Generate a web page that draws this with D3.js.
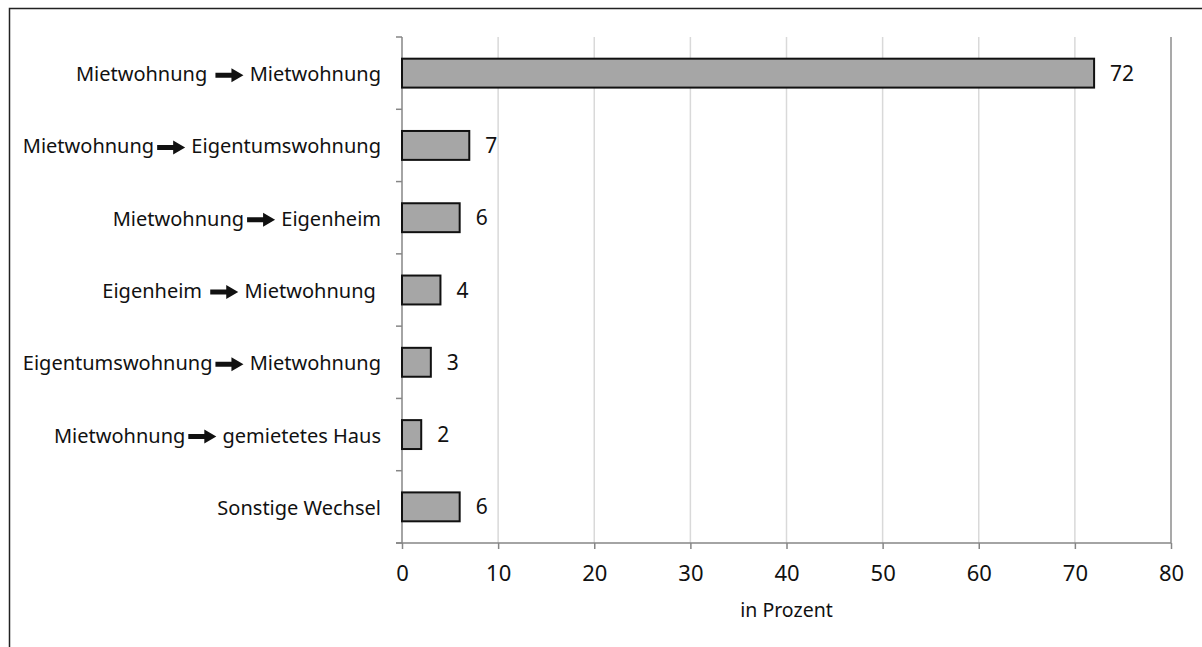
<!DOCTYPE html>
<html>
<head>
<meta charset="utf-8">
<script src="https://cdn.jsdelivr.net/npm/d3@7"></script>
<style>
  html, body { margin: 0; padding: 0; background: #fff; }
  svg { display: block; }
  text { font-family: "Noto Sans", sans-serif; fill: #111; }
</style>
</head>
<body>
<svg id="chart" width="1202" height="647"></svg>
<script>
// Wohnungswechsel nach Art der vorherigen und neuen Wohnung
const fromLabels = ["Mietwohnung ", "Mietwohnung", "Mietwohnung", "Eigenheim ", "Eigentumswohnung", "Mietwohnung", ""];
const toLabels = [" Mietwohnung", " Eigentumswohnung", " Eigenheim", " Mietwohnung ", " Mietwohnung", " gemietetes Haus", "Sonstige Wechsel"];
const values = [72, 7, 6, 4, 3, 2, 6];
const xTicks = [0, 10, 20, 30, 40, 50, 60, 70, 80];
const axisTitle = "in Prozent";

const rows = values.map((v, i) => ({ id: i, from: fromLabels[i], to: toLabels[i], value: v }));

const svg = d3.select("#chart");
const margin = { left: 402, right: 31, top: 37, bottom: 104 };
const W = 1202, H = 647;

// outer frame
svg.append("rect")
  .attr("x", 9.5).attr("y", 8.5)
  .attr("width", 1210).attr("height", 660)
  .attr("fill", "none").attr("stroke", "#222").attr("stroke-width", 1.5);

const x = d3.scaleLinear().domain([0, 80]).range([margin.left, W - margin.right]);
const y = d3.scaleBand().domain(rows.map(d => d.id))
  .range([margin.top, H - margin.bottom]).paddingInner(0.6).paddingOuter(0.3);
const y0 = margin.top, y1 = H - margin.bottom;
const mid = d => y(d.id) + y.bandwidth() / 2;

// vertical gridlines
svg.append("g").selectAll("line")
  .data(xTicks.filter(t => t > 0 && t < 80))
  .join("line")
  .attr("x1", d => x(d)).attr("x2", d => x(d))
  .attr("y1", y0).attr("y2", y1)
  .attr("stroke", "#d9d9d9").attr("stroke-width", 1.5);

// right border of the plot area
svg.append("line")
  .attr("x1", x(80)).attr("x2", x(80)).attr("y1", y0).attr("y2", y1)
  .attr("stroke", "#8c8c8c").attr("stroke-width", 1.5);

// x axis
const xAxis = svg.append("g")
  .attr("transform", `translate(0,${y1})`)
  .call(d3.axisBottom(x).tickValues(xTicks).tickSize(6).tickSizeOuter(0).tickPadding(16));
xAxis.select(".domain").attr("stroke", "#868686").attr("stroke-width", 1.5)
  .attr("d", `M${x(0) - 6},0H${x(80)}`);
xAxis.selectAll(".tick line").attr("stroke", "#868686").attr("stroke-width", 1.5);
xAxis.selectAll(".tick text")
  .style("font-family", "'Noto Sans', sans-serif").style("font-size", "22px").attr("fill", "#111");

// y axis line with ticks at category boundaries
svg.append("line")
  .attr("x1", x(0)).attr("x2", x(0)).attr("y1", y0).attr("y2", y1)
  .attr("stroke", "#868686").attr("stroke-width", 1.5);
svg.append("g").selectAll("line")
  .data(d3.range(rows.length + 1))
  .join("line")
  .attr("x1", x(0) - 6).attr("x2", x(0))
  .attr("y1", i => y0 + i * (y1 - y0) / rows.length)
  .attr("y2", i => y0 + i * (y1 - y0) / rows.length)
  .attr("stroke", "#868686").attr("stroke-width", 1.5);

// bars
svg.append("g").selectAll("rect")
  .data(rows)
  .join("rect")
  .attr("x", x(0))
  .attr("y", d => y(d.id))
  .attr("width", d => x(d.value) - x(0))
  .attr("height", y.bandwidth())
  .attr("fill", "#a6a6a6").attr("stroke", "#111").attr("stroke-width", 2);

// value labels
svg.append("g").selectAll("text")
  .data(rows)
  .join("text")
  .attr("x", d => x(d.value) + 16)
  .attr("y", d => mid(d) + 7.5)
  .style("font-size", "21px")
  .text(d => d.value);

// category labels: origin, arrow, destination (right-aligned)
const labelRight = 381;
const arrowW = 28;
const fs = "20px";
const labels = svg.append("g").selectAll("g")
  .data(rows)
  .join("g");
labels.each(function(d) {
  const g = d3.select(this);
  const base = mid(d) + 8;
  const toText = g.append("text")
    .attr("x", labelRight).attr("y", base)
    .attr("text-anchor", "end")
    .style("font-size", fs)
    .style("white-space", "pre")
    .text(d.to);
  if (!d.from) return;
  const wTo = toText.node().getComputedTextLength();
  const ax1 = labelRight - wTo - 1;
  const ax0 = ax1 - arrowW;
  const ay = base - 6;
  const head = 12, sh = 2.5, hh = 7;
  g.append("path")
    .attr("d", `M${ax0},${ay - sh}H${ax1 - head}V${ay - hh}L${ax1},${ay}L${ax1 - head},${ay + hh}V${ay + sh}H${ax0}Z`)
    .attr("fill", "#111");
  g.append("text")
    .attr("x", ax0 - 3).attr("y", base)
    .attr("text-anchor", "end")
    .style("font-size", fs)
    .style("white-space", "pre")
    .text(d.from);
});

// axis title
svg.append("text")
  .attr("x", (x(0) + x(80)) / 2).attr("y", 617)
  .attr("text-anchor", "middle")
  .style("font-size", "19.5px")
  .text(axisTitle);
</script>
</body>
</html>
